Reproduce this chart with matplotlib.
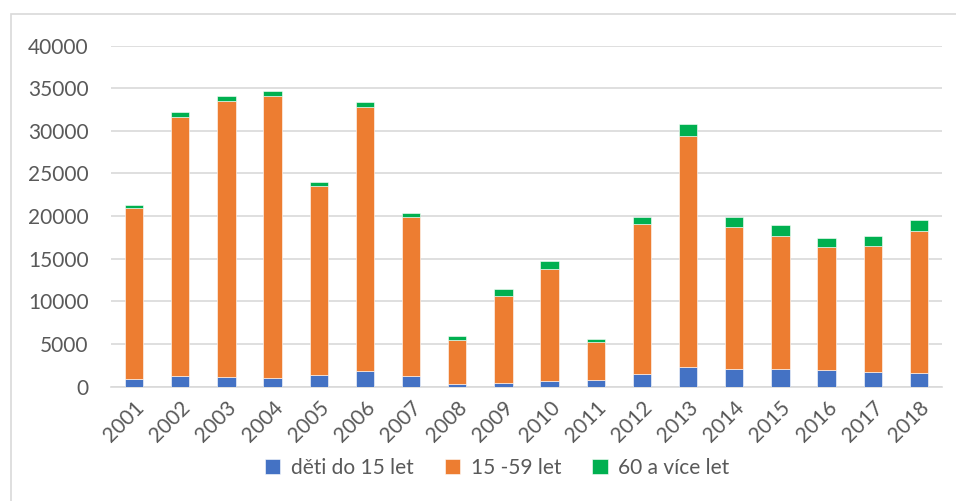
import numpy as np
import matplotlib.pyplot as plt
from matplotlib.patches import Rectangle

years = [str(y) for y in range(2001, 2019)]
deti = [880, 1210, 1170, 1020, 1330, 1870, 1210, 350, 390, 625, 740, 1480, 2300, 2030, 2030, 1950, 1760, 1640]
stredni = [20060, 30350, 32310, 33080, 22180, 30940, 18630, 5080, 10270, 13125, 4450, 17580, 27110, 16720, 15580, 14380, 14680, 16600]
starsi = [390, 700, 620, 580, 430, 550, 550, 470, 820, 1010, 400, 860, 1370, 1200, 1330, 1050, 1170, 1250]
series_names = ['děti do 15 let', '15 -59 let', '60 a více let']
colors = ['#4472c4', '#ed7d31', '#00b050']

plt.rcParams['font.family'] = ['Lato', 'DejaVu Sans']
txt = '#595959'

fig = plt.figure(figsize=(9.56, 5.01), dpi=100)
ax = fig.add_axes([111/956, 1-386.7/501, (942-111)/956, (386.7-45.5)/501])

x = np.arange(len(years))
bottom = np.zeros(len(years))
for vals, name, c in zip([deti, stredni, starsi], series_names, colors):
    ax.bar(x, vals, 0.4, bottom=bottom, color=c, label=name, edgecolor='white', linewidth=0.4, zorder=3)
    bottom += np.array(vals)

ax.set_xlim(-0.5, len(years)-0.5)
ax.set_ylim(0, 40000)
ax.set_yticks(range(0, 40001, 5000))
ax.yaxis.grid(True, color='#d9d9d9', linewidth=1.2, zorder=0)
for s in ['top', 'right', 'left']:
    ax.spines[s].set_visible(False)
ax.spines['bottom'].set_color('#d9d9d9')
ax.spines['bottom'].set_linewidth(1.2)
ax.tick_params(axis='both', length=0, colors=txt, labelsize=15)
ax.tick_params(axis='y', pad=16)
ax.set_xticks(x)
ax.set_xticklabels(years, rotation=45, ha='right', rotation_mode='anchor')
ax.tick_params(axis='x', pad=8)

fig.legend(loc='center', bbox_to_anchor=(0.52, 0.066), ncol=3, frameon=False,
           fontsize=15, labelcolor=txt, handlelength=0.75, handleheight=0.75,
           handletextpad=0.5, columnspacing=1.5)

fig.patches.append(Rectangle((11/956, -0.1), 1.2, 1-14/501+0.1, transform=fig.transFigure,
                             fill=False, edgecolor='#d9d9d9', linewidth=1.2))

fig.savefig('out.png', dpi=100)
